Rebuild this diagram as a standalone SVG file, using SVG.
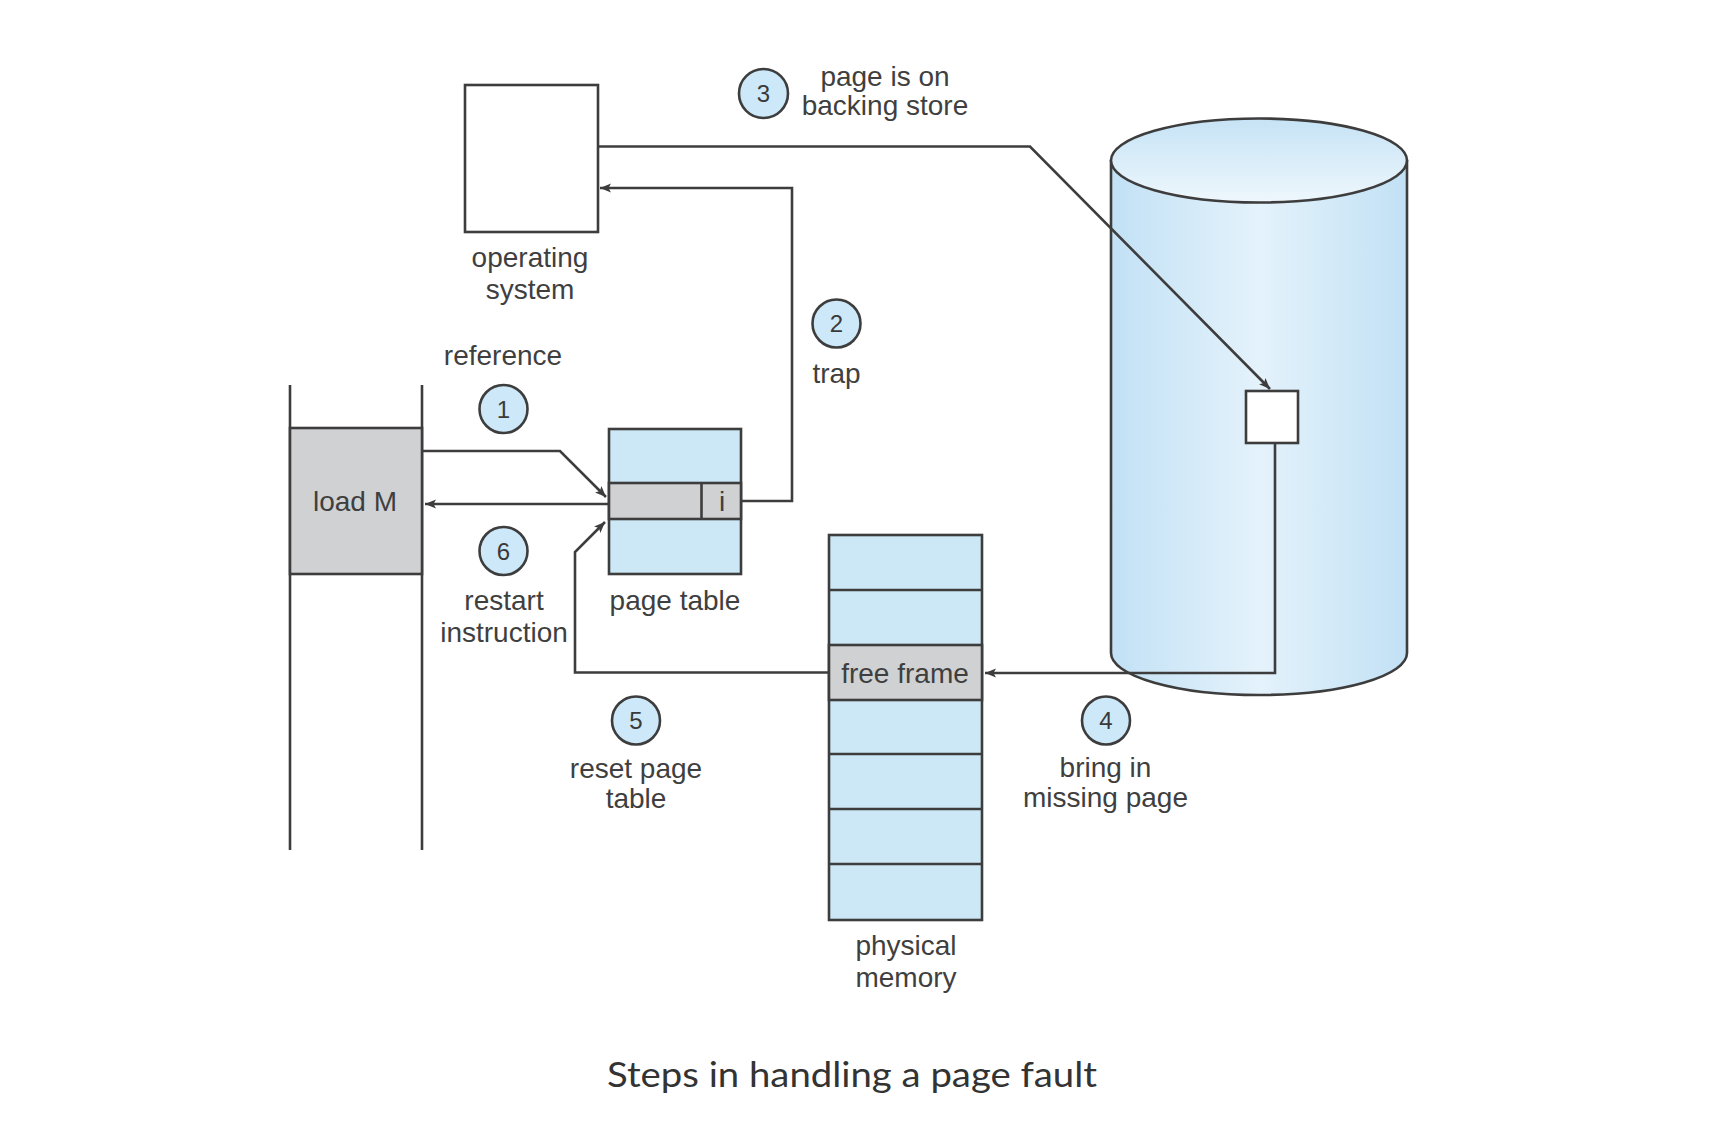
<svg xmlns="http://www.w3.org/2000/svg" width="1720" height="1140" viewBox="0 0 1720 1140">
<defs>
<style>
.ln{fill:none;stroke:#3d3d3d;stroke-width:2.6;stroke-linejoin:miter}
.bx{stroke:#3d3d3d;stroke-width:2.6}
.blue{fill:#cce7f6}
.gray{fill:#d0d1d3}
.lbl{font-family:"Liberation Sans",Arial,sans-serif;font-size:28px;fill:#3f3f3f;text-anchor:middle}
.num{font-family:"Liberation Sans",Arial,sans-serif;font-size:24px;fill:#3a3a3a;text-anchor:middle}
.step{fill:#cde8f8;stroke:#3d3d3d;stroke-width:2.6}
.cap{font-family:Lato,"Noto Sans",sans-serif;font-size:35px;fill:#333333}
</style>
<marker id="ah" markerUnits="userSpaceOnUse" markerWidth="12" markerHeight="10" refX="11" refY="5" orient="auto">
<path d="M0,0.5 L11,5 L0,9.5 L2.5,5 Z" fill="#3d3d3d"/>
</marker>
<linearGradient id="cylBody" x1="0" y1="0" x2="1" y2="0">
<stop offset="0" stop-color="#c2e1f5"/>
<stop offset="0.5" stop-color="#e4f2fb"/>
<stop offset="1" stop-color="#c2e1f5"/>
</linearGradient>
<linearGradient id="cylTop" x1="0" y1="0" x2="0" y2="1">
<stop offset="0" stop-color="#c6e3f5"/>
<stop offset="1" stop-color="#eef7fd"/>
</linearGradient>
</defs>
<rect width="1720" height="1140" fill="#ffffff"/>

<g id="backing-store">
<path class="bx" d="M1111,161 L1111,653 A148,42 0 0 0 1407,653 L1407,161 Z" fill="url(#cylBody)"/>
<ellipse class="bx" cx="1259" cy="160.5" rx="148" ry="42" fill="url(#cylTop)"/>
<rect class="bx" x="1246" y="391" width="52" height="52" fill="#ffffff"/>
</g>

<g id="operating-system">
<rect class="bx" x="465" y="85" width="133" height="147" fill="#ffffff"/>
<text class="lbl" x="530" y="267">operating</text>
<text class="lbl" x="530" y="299">system</text>
</g>

<g id="process">
<line class="ln" x1="290" y1="385" x2="290" y2="850"/>
<line class="ln" x1="422" y1="385" x2="422" y2="850"/>
<rect class="bx gray" x="290" y="428" width="132" height="146"/>
<text class="lbl" x="355" y="511">load M</text>
</g>

<g id="page-table">
<rect class="bx blue" x="609" y="429" width="132" height="145"/>
<rect class="bx gray" x="609" y="483" width="132" height="36"/>
<line class="ln" x1="701.5" y1="483" x2="701.5" y2="519"/>
<text class="lbl" x="722" y="511">i</text>
<text class="lbl" x="675" y="610">page table</text>
</g>

<g id="physical-memory">
<rect class="bx blue" x="829" y="535" width="153" height="385"/>
<rect class="bx gray" x="829" y="645" width="153" height="55"/>
<line class="ln" x1="829" y1="590" x2="982" y2="590"/>
<line class="ln" x1="829" y1="754" x2="982" y2="754"/>
<line class="ln" x1="829" y1="809" x2="982" y2="809"/>
<line class="ln" x1="829" y1="864" x2="982" y2="864"/>
<text class="lbl" x="905" y="683">free frame</text>
<text class="lbl" x="906" y="955">physical</text>
<text class="lbl" x="906" y="987">memory</text>
</g>

<g id="connectors">
<polyline class="ln" points="422,451 560,451 606,497" marker-end="url(#ah)"/>
<polyline class="ln" points="741,501 792,501 792,188 600,188" marker-end="url(#ah)"/>
<polyline class="ln" points="598,146.5 1030,146.5 1270,389" marker-end="url(#ah)"/>
<polyline class="ln" points="1275,443 1275,673 985,673" marker-end="url(#ah)"/>
<polyline class="ln" points="829,672.5 575,672.5 575,552 605,522" marker-end="url(#ah)"/>
<line class="ln" x1="609" y1="504" x2="425" y2="504" marker-end="url(#ah)"/>
</g>

<g id="step-1">
<circle class="step" cx="503.5" cy="409" r="24"/>
<text class="num" x="503.5" y="417.5">1</text>
<text class="lbl" x="503" y="365">reference</text>
</g>
<g id="step-2">
<circle class="step" cx="836.5" cy="323.5" r="24"/>
<text class="num" x="836.5" y="332">2</text>
<text class="lbl" x="836.5" y="383">trap</text>
</g>
<g id="step-3">
<circle class="step" cx="763.5" cy="93.5" r="24.5"/>
<text class="num" x="763.5" y="102">3</text>
<text class="lbl" x="885" y="86">page is on</text>
<text class="lbl" x="885" y="115">backing store</text>
</g>
<g id="step-4">
<circle class="step" cx="1106" cy="720.5" r="24"/>
<text class="num" x="1106" y="729">4</text>
<text class="lbl" x="1105.5" y="777">bring in</text>
<text class="lbl" x="1105.5" y="807">missing page</text>
</g>
<g id="step-5">
<circle class="step" cx="636" cy="720.5" r="24"/>
<text class="num" x="636" y="729">5</text>
<text class="lbl" x="636" y="778">reset page</text>
<text class="lbl" x="636" y="808">table</text>
</g>
<g id="step-6">
<circle class="step" cx="503.5" cy="551" r="24"/>
<text class="num" x="503.5" y="559.5">6</text>
<text class="lbl" x="504" y="610">restart</text>
<text class="lbl" x="504" y="642">instruction</text>
</g>

<g id="caption">
<text class="cap" x="607" y="1087" textLength="490" lengthAdjust="spacingAndGlyphs">Steps in handling a page fault</text>
</g>
</svg>
